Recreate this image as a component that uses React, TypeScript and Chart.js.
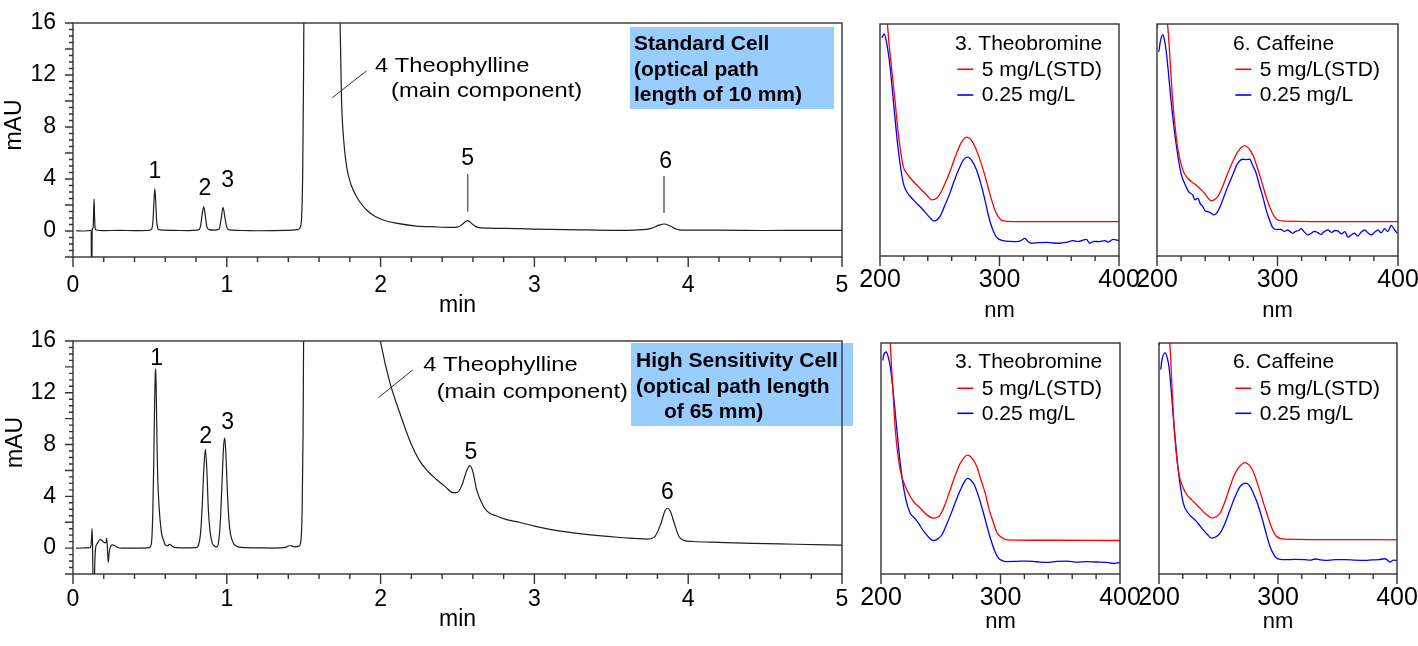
import React, { useEffect, useRef } from "react";
import { Chart, registerables } from "chart.js";

Chart.register(...registerables);

const FONT = "'Liberation Sans', Arial, Helvetica, sans-serif";
const AXIS = "#333333";
const TRACE = "#1e1e1e";
const RED = "#ff0000";
const BLUE = "#0000ff";

// ---------- tick labels ----------
const timeTicks = [0, 1, 2, 3, 4, 5];
const mauTicks = [0, 4, 8, 12, 16];
const nmTicks = [200, 300, 400];

// ---------- standard cell chromatogram (min, mAU) ----------
const stdTime = [0.02, 0.06, 0.1, 0.118, 0.1205, 0.1225, 0.1245, 0.131, 0.134, 0.137, 0.14, 0.143, 0.15, 0.2, 0.3, 0.4, 0.48, 0.51, 0.52, 0.526, 0.532, 0.538, 0.544, 0.552, 0.565, 0.65, 0.75, 0.81, 0.828, 0.84, 0.85, 0.86, 0.87, 0.885, 0.92, 0.95, 0.963, 0.976, 0.988, 1.0, 1.015, 1.1, 1.2, 1.3, 1.4, 1.46, 1.478, 1.488, 1.494, 1.499, 1.505, 1.52, 1.6, 1.7, 1.728, 1.738, 1.746, 1.76, 1.779, 1.81, 1.844, 1.88, 1.909, 1.96, 2.017, 2.1, 2.234, 2.35, 2.45, 2.5, 2.53, 2.566, 2.6, 2.63, 2.7, 2.9, 3.1, 3.34, 3.6, 3.7, 3.76, 3.81, 3.845, 3.88, 3.92, 3.96, 4.2, 4.5, 4.8, 5.0];
const stdSignal = [0.02, 0.0, 0.03, 0.05, -4, -4, 0.1, 0.25, 1.4, 2.45, 1.2, 0.3, 0.08, 0.03, 0.05, 0.03, 0.04, 0.12, 0.8, 2.2, 3.25, 2.2, 0.8, 0.2, 0.08, 0.05, 0.03, 0.06, 0.3, 1.3, 1.85, 1.2, 0.35, 0.1, 0.06, 0.15, 0.9, 1.82, 1.0, 0.3, 0.08, 0.04, 0.02, 0.03, 0.05, 0.1, 0.3, 1.5, 5, 12, 25, 60, 120, 60, 24, 15, 10.1, 7, 4.95, 3.5, 2.64, 2.0, 1.62, 1.15, 0.85, 0.6, 0.38, 0.32, 0.28, 0.3, 0.5, 0.8, 0.5, 0.28, 0.22, 0.18, 0.12, 0.08, 0.05, 0.1, 0.2, 0.45, 0.54, 0.4, 0.15, 0.06, 0.06, 0.04, 0.05, 0.05];

// ---------- high sensitivity cell chromatogram (min, mAU) ----------
const hsTime = [0.02, 0.06, 0.1, 0.115, 0.121, 0.124, 0.127, 0.13, 0.133, 0.138, 0.141, 0.147, 0.155, 0.165, 0.175, 0.188, 0.2, 0.21, 0.216, 0.219, 0.223, 0.229, 0.235, 0.243, 0.255, 0.27, 0.29, 0.32, 0.4, 0.49, 0.505, 0.513, 0.519, 0.525, 0.531, 0.535, 0.538, 0.542, 0.547, 0.553, 0.564, 0.575, 0.586, 0.6, 0.615, 0.628, 0.64, 0.66, 0.7, 0.8, 0.815, 0.828, 0.84, 0.85, 0.861, 0.871, 0.88, 0.892, 0.905, 0.92, 0.935, 0.948, 0.96, 0.972, 0.98, 0.987, 0.995, 1.005, 1.018, 1.035, 1.055, 1.1, 1.2, 1.3, 1.38, 1.41, 1.44, 1.47, 1.482, 1.49, 1.496, 1.502, 1.52, 1.6, 1.7, 1.8, 1.9, 1.95, 2.002, 2.06, 2.126, 2.19, 2.256, 2.31, 2.364, 2.42, 2.472, 2.5, 2.53, 2.56, 2.581, 2.6, 2.625, 2.657, 2.69, 2.75, 2.82, 2.906, 3.0, 3.1, 3.23, 3.4, 3.556, 3.65, 3.73, 3.78, 3.82, 3.85, 3.865, 3.885, 3.91, 3.94, 3.97, 4.03, 4.2, 4.42, 4.7, 5.0];
const hsSignal = [0, 0.01, 0.02, 0.05, 0.8, 1.5, 0.3, -2.5, -4, -4, -1.5, 0, 0.3, 0.5, 0.65, 0.6, 0.45, 0.4, 0.5, 0.75, 0.2, -1.1, -0.4, 0.1, 0.25, 0.2, 0.05, 0.0, 0.0, 0.02, 0.15, 0.8, 2.8, 6.6, 11.5, 13.5, 13.85, 11.5, 7.5, 4.8, 2.48, 1.2, 0.69, 0.25, 0.18, 0.3, 0.2, 0.05, 0.02, 0.04, 0.2, 1.0, 3.2, 6.0, 7.62, 5.8, 3.0, 1.2, 0.4, 0.15, 0.1, 0.6, 2.5, 6.0, 8.0, 8.5, 7.0, 4.0, 1.6, 0.6, 0.2, 0.05, 0.02, 0.0, 0.05, 0.2, 0.1, 0.15, 0.6, 3, 9, 22, 60, 150, 100, 45, 25, 19.5, 15.8, 12.8, 10.4, 8.3, 6.7, 5.9, 5.3, 4.75, 4.28, 4.3, 4.9, 6.0, 6.38, 5.9, 4.5, 3.51, 2.87, 2.5, 2.2, 1.98, 1.7, 1.45, 1.21, 0.98, 0.82, 0.75, 0.69, 0.85, 1.8, 2.9, 3.08, 2.8, 1.9, 0.9, 0.6, 0.51, 0.44, 0.36, 0.3, 0.23];

// ---------- UV spectra (nm, relative absorbance) : standard cell ----------
const theoStdRedNm = [205, 206.4, 209.5, 212.5, 215.3, 219.5, 222.3, 227.9, 233.4, 239, 243.2, 247.4, 251.5, 255.7, 260, 264.1, 268.5, 272.5, 276, 279.4, 283, 286.4, 290, 293.4, 296, 298.9, 303.1, 311.4, 350, 400];
const theoStdRedAbs = [115, 99, 82, 67.3, 52.9, 38.5, 35.7, 32.1, 29.2, 26.3, 24.2, 24.9, 28, 32.8, 38.5, 44.3, 49.3, 51.2, 50.2, 47.2, 42.5, 37.1, 30.5, 24.2, 20, 17.0, 15.1, 14.8, 14.8, 14.8];
const theoStdBlueNm = [201.5, 203.5, 205.6, 208.4, 211.1, 215.3, 219.5, 222.3, 227.9, 234.8, 240.4, 245.1, 250.1, 254, 258.5, 262.5, 266.9, 270, 273, 277, 280.8, 284.5, 287.8, 290.5, 293.4, 297.5, 303.1, 309, 314.2, 318, 321.2, 324, 326.7, 333, 339.3, 345, 350.4, 356, 361.5, 366, 372.7, 375.5, 379, 383.8, 388, 391, 395, 400];
const theoStdBlueAbs = [94, 95.7, 91.8, 81.7, 67.3, 45.7, 31.4, 27.8, 24.2, 20.6, 17.3, 15.1, 17.0, 21.5, 27.1, 33, 38.5, 41.5, 42.6, 41, 37.1, 31, 24.2, 18, 12.7, 8.1, 6.6, 6.3, 6.2, 6.6, 7.6, 6.2, 5.5, 5.8, 5.9, 5.6, 5.5, 5.9, 6.6, 6.2, 7.2, 5.5, 6.3, 6.2, 6.6, 6.0, 7.2, 6.6];

const cafStdRedNm = [200, 202.5, 205, 208.9, 213, 216.6, 221.4, 225.5, 232.4, 239.4, 244.9, 250.4, 254.5, 258.7, 263, 267.1, 272.6, 276, 279.5, 283, 286.4, 290, 293.4, 297, 300.3, 305.9, 350, 400];
const cafStdRedAbs = [98, 106, 112, 99, 67.3, 48.6, 37.1, 33.5, 30.6, 27.1, 23.9, 25.6, 30, 35.7, 40.8, 45.0, 47.6, 46.5, 43.6, 38.5, 32.8, 26.5, 21.3, 17.3, 15.5, 15.0, 14.8, 14.8];
const cafStdBlueNm = [201.5, 203, 204.7, 206, 207.5, 209.5, 211.6, 215.8, 219.9, 224.1, 226.5, 229.6, 231.5, 233.8, 236, 238, 240, 242.1, 244.5, 247.1, 249.5, 251.8, 255, 258.7, 263, 267.1, 271.2, 274, 276.8, 279.5, 282.3, 285, 287.8, 290.5, 293.4, 296.1, 299, 303, 305.5, 308.6, 310.5, 312.7, 315, 317.5, 319.6, 322, 325.2, 328, 330.5, 333.5, 336, 338.5, 341.8, 345, 347.5, 350.1, 353, 356, 358.4, 361, 364, 366.5, 369.5, 372.3, 375, 377.8, 380.5, 383.4, 386, 389, 391.5, 394.4, 397.2, 399.4];
const cafStdBlueAbs = [88, 93, 95.4, 93.5, 88.9, 79, 67.3, 48.6, 35.7, 29.9, 27.5, 26.3, 24.2, 24.9, 22.5, 21.3, 19.5, 19.1, 18.6, 17.7, 18.5, 20.6, 24.8, 29.9, 35.2, 40.0, 41.7, 41.5, 41.7, 39, 35.7, 30.5, 25.6, 20, 15.5, 12.2, 11.4, 11.5, 10.6, 11.2, 10.5, 9.8, 10.6, 11.0, 11.8, 10.5, 9.1, 9.8, 10.6, 10.1, 9.3, 10.4, 11.2, 10.2, 11.0, 10.8, 9.6, 10.5, 8.1, 9.0, 9.8, 8.6, 10.3, 11.2, 10.0, 9.1, 10.2, 11.2, 10.0, 11.8, 10.6, 13.2, 11.2, 9.8];

// ---------- UV spectra : high sensitivity cell ----------
const theoHsRedNm = [206, 207.8, 210, 212, 216.1, 221.7, 227.3, 232.9, 238.4, 244, 249.6, 253.5, 257.9, 262, 266.3, 272.4, 276, 280.2, 283.5, 287.2, 290.5, 294.2, 297, 299.8, 305.3, 340, 400];
const theoHsRedAbs = [112, 99, 79, 62.3, 45.0, 36.4, 31.3, 28.5, 25.6, 24.2, 25.6, 30, 36.4, 42.5, 47.9, 51.5, 50.3, 46.5, 41, 35.0, 28, 22.0, 18, 16.2, 14.8, 14.6, 14.5];
const theoHsBlueNm = [201.5, 202.2, 204.4, 206, 207.8, 210, 212, 216.1, 220.3, 224.5, 228, 231.4, 234, 237, 240.5, 244, 247.5, 251, 255, 259.3, 263.5, 267.7, 272.4, 275.5, 278.8, 282.3, 285.8, 289.3, 292.8, 295.5, 298.3, 301.5, 305.3, 314, 322, 330, 338.7, 347, 355.4, 364, 372.2, 380, 388.9, 394.4, 400];
const theoHsBlueAbs = [92.5, 94.7, 96.1, 94, 89.6, 80, 69.5, 47.9, 33.5, 26.3, 24.3, 22.0, 19.8, 17.7, 15.6, 14.5, 15.2, 17.0, 21.5, 27.0, 32.8, 37.8, 41.4, 40.5, 37.8, 32.5, 26.3, 19.5, 13.4, 9.5, 6.9, 5.8, 5.4, 5.5, 5.6, 5.3, 5.0, 5.5, 5.6, 5.1, 5.4, 5.2, 5.0, 4.6, 5.0];

const cafHsRedNm = [200, 201.7, 205, 209.2, 211, 212.9, 216.2, 221.8, 227.5, 234.5, 240, 244.8, 248, 251.3, 255.5, 259.7, 263, 266.6, 272.3, 276, 279.3, 282.8, 286.2, 289.8, 293.3, 296, 298.8, 305.9, 350, 400];
const cafHsRedAbs = [99, 102, 112, 99, 80, 62.3, 45.0, 35.7, 32.1, 28.5, 25.6, 24.2, 24.8, 26.3, 31.5, 37.8, 42.5, 45.8, 48.2, 47, 44.3, 39, 33.5, 27.5, 22.0, 18.5, 16.2, 15.1, 14.9, 14.8];
const cafHsBlueNm = [201.5, 202.2, 205, 206.7, 208.4, 210.2, 212, 216.2, 220.4, 224.6, 228, 231.6, 234.5, 237.2, 240.5, 244.2, 247.5, 251.3, 255.5, 259.7, 264, 268.1, 272.8, 276, 279.3, 282.8, 286.2, 289.8, 293.3, 296, 298.8, 302, 305.9, 314, 322.7, 327, 331.2, 335.5, 339.6, 348, 356.4, 364.8, 373.2, 379, 384.4, 390, 392, 394.2, 397, 400];
const cafHsBlueAbs = [88.5, 91.8, 95.7, 94, 89.6, 80, 68.0, 45.0, 30.7, 26.3, 24.5, 22.7, 20.8, 19.1, 17.2, 15.5, 16.0, 17.7, 22, 27.8, 33.5, 37.8, 39.3, 38.3, 35.0, 30.5, 24.9, 18, 11.9, 8.8, 6.9, 6.3, 6.2, 6.3, 6.2, 6.0, 6.5, 6.1, 5.9, 6.2, 6.2, 6.0, 5.9, 6.1, 6.2, 6.6, 6.0, 5.2, 6.0, 5.9];

// ---------- helpers ----------
const pts = (xs: number[], ys: number[]) => xs.map((x, i) => ({ x, y: ys[i] }));

type Anno =
  | { t: "text"; s: string; x: number; y: number; size: number; bold?: boolean; sx?: number; align?: CanvasTextAlign; rot?: boolean }
  | { t: "line"; x1: number; y1: number; x2: number; y2: number; c: string; w: number }
  | { t: "rect"; x: number; y: number; w: number; h: number; c: string };

interface Decor {
  ox: number;
  oy: number;
  xMinor: number;
  xMajor: number;
  yMinor?: number;
  yMajor?: number;
  annos: Anno[];
}

function decorPlugin(d: Decor) {
  return {
    id: "decor",
    beforeDatasetsDraw(chart: any) {
      const ctx = chart.ctx;
      ctx.save();
      for (const a of d.annos) {
        if (a.t === "rect") {
          ctx.fillStyle = a.c;
          ctx.fillRect(a.x - d.ox, a.y - d.oy, a.w, a.h);
        }
      }
      ctx.restore();
    },
    afterDraw(chart: any) {
      const { ctx, chartArea: ca, scales } = chart;
      ctx.save();
      ctx.strokeStyle = AXIS;
      ctx.lineWidth = 1.4;
      ctx.strokeRect(ca.left, ca.top, ca.right - ca.left, ca.bottom - ca.top);
      ctx.beginPath();
      const xs = scales.x;
      const nx = Math.round((xs.max - xs.min) / d.xMinor);
      for (let i = 0; i <= nx; i++) {
        const v = xs.min + i * d.xMinor;
        const px = xs.getPixelForValue(v);
        const r = v / d.xMajor;
        const major = Math.abs(r - Math.round(r)) < 1e-6;
        ctx.moveTo(px, ca.bottom);
        ctx.lineTo(px, ca.bottom + (major ? 10 : 5));
      }
      if (d.yMinor && d.yMajor) {
        const ys = scales.y;
        const ny = Math.round((ys.max - ys.min) / d.yMinor);
        for (let i = 0; i <= ny; i++) {
          const v = ys.min + i * d.yMinor;
          const py = ys.getPixelForValue(v);
          const r = v / d.yMajor;
          const major = Math.abs(r - Math.round(r)) < 1e-6;
          ctx.moveTo(ca.left, py);
          ctx.lineTo(ca.left - (major ? 8 : 4), py);
        }
      }
      ctx.stroke();

      for (const a of d.annos) {
        if (a.t === "line") {
          ctx.strokeStyle = a.c;
          ctx.lineWidth = a.w;
          ctx.beginPath();
          ctx.moveTo(a.x1 - d.ox, a.y1 - d.oy);
          ctx.lineTo(a.x2 - d.ox, a.y2 - d.oy);
          ctx.stroke();
        } else if (a.t === "text") {
          ctx.fillStyle = "#000";
          ctx.font = `${a.bold ? "bold " : ""}${a.size}px ${FONT}`;
          ctx.save();
          ctx.translate(a.x - d.ox, a.y - d.oy);
          if (a.rot) {
            ctx.rotate(-Math.PI / 2);
            ctx.textAlign = "center";
            ctx.textBaseline = "middle";
          } else {
            ctx.textAlign = a.align || "left";
            ctx.textBaseline = "alphabetic";
            ctx.scale(a.sx || 1, 1);
          }
          ctx.fillText(a.s, 0, 0);
          ctx.restore();
        }
      }
      ctx.restore();
    },
  };
}

interface Box {
  ox: number;
  oy: number;
  w: number;
  h: number;
  L: number;
  T: number;
  R: number;
  B: number;
}

function chromatogram(box: Box, time: number[], signal: number[], tickPad: number, titlePad: number, annos: Anno[]) {
  return {
    type: "line",
    data: {
      datasets: [
        {
          data: pts(time, signal),
          borderColor: TRACE,
          borderWidth: 1.2,
          pointRadius: 0,
          cubicInterpolationMode: "monotone",
          fill: false,
        },
      ],
    },
    options: {
      responsive: false,
      animation: false,
      events: [],
      layout: { padding: { left: 0, top: box.T - box.oy, right: box.ox + box.w - box.R, bottom: 0 } },
      plugins: { legend: { display: false }, tooltip: { enabled: false } },
      scales: {
        x: {
          type: "linear",
          min: 0,
          max: 5,
          afterBuildTicks: (s: any) => {
            s.ticks = timeTicks.map((value) => ({ value }));
          },
          afterFit: (s: any) => {
            s.height = box.oy + box.h - box.B;
            s.paddingLeft = 0;
            s.paddingRight = 0;
          },
          grid: { display: false, drawTicks: false },
          border: { display: false },
          ticks: { color: "#000", font: { family: FONT, size: 23 }, padding: tickPad, maxRotation: 0, autoSkip: false },
          title: { display: true, text: "min", color: "#000", font: { family: FONT, size: 23 }, padding: { top: 0, bottom: titlePad } },
        },
        y: {
          type: "linear",
          min: -2,
          max: 16,
          afterBuildTicks: (s: any) => {
            s.ticks = mauTicks.map((value) => ({ value }));
          },
          afterFit: (s: any) => {
            s.width = box.L - box.ox;
            s.paddingTop = 0;
            s.paddingBottom = 0;
          },
          grid: { display: false, drawTicks: false },
          border: { display: false },
          ticks: { color: "#000", font: { family: FONT, size: 23 }, padding: 17, autoSkip: false },
        },
      },
    },
    plugins: [decorPlugin({ ox: box.ox, oy: box.oy, xMinor: 0.2, xMajor: 1, yMinor: 0.5, yMajor: 2, annos })],
  };
}

function spectrum(box: Box, redNm: number[], redAbs: number[], blueNm: number[], blueAbs: number[], tickPad: number, titlePad: number, annos: Anno[]) {
  return {
    type: "line",
    data: {
      datasets: [
        { label: "5 mg/L(STD)", data: pts(redNm, redAbs), borderColor: RED, borderWidth: 1.3, pointRadius: 0, cubicInterpolationMode: "monotone", fill: false },
        { label: "0.25 mg/L", data: pts(blueNm, blueAbs), borderColor: BLUE, borderWidth: 1.3, pointRadius: 0, cubicInterpolationMode: "monotone", fill: false },
      ],
    },
    options: {
      responsive: false,
      animation: false,
      events: [],
      layout: { padding: { left: box.L - box.ox, top: box.T - box.oy, right: box.ox + box.w - box.R, bottom: 0 } },
      plugins: { legend: { display: false }, tooltip: { enabled: false } },
      scales: {
        x: {
          type: "linear",
          min: 200,
          max: 400,
          afterBuildTicks: (s: any) => {
            s.ticks = nmTicks.map((value) => ({ value }));
          },
          afterFit: (s: any) => {
            s.height = box.oy + box.h - box.B;
            s.paddingLeft = 0;
            s.paddingRight = 0;
          },
          grid: { display: false, drawTicks: false },
          border: { display: false },
          ticks: { color: "#000", font: { family: FONT, size: 25 }, padding: tickPad, maxRotation: 0, autoSkip: false },
          title: { display: true, text: "nm", color: "#000", font: { family: FONT, size: 22 }, padding: { top: 0, bottom: titlePad } },
        },
        y: { type: "linear", min: 0, max: 100, display: false },
      },
    },
    plugins: [decorPlugin({ ox: box.ox, oy: box.oy, xMinor: 20, xMajor: 100, annos })],
  };
}

function legendAnnos(title: string, x0: number, yTitle: number, yRed: number, yRedText: number, yBlue: number, yBlueText: number): Anno[] {
  return [
    { t: "text", s: title, x: x0, y: yTitle, size: 21 },
    { t: "line", x1: x0 + 2.3, y1: yRed, x2: x0 + 18.3, y2: yRed, c: RED, w: 1.6 },
    { t: "text", s: "5 mg/L(STD)", x: x0 + 26.7, y: yRedText, size: 21 },
    { t: "line", x1: x0 + 2.3, y1: yBlue, x2: x0 + 18.3, y2: yBlue, c: BLUE, w: 1.6 },
    { t: "text", s: "0.25 mg/L", x: x0 + 26.7, y: yBlueText, size: 21 },
  ];
}

// ---------- panel definitions ----------
const stdBox: Box = { ox: 0, oy: 0, w: 860, h: 330, L: 73, T: 23, R: 842, B: 257 };
const hsBox: Box = { ox: 0, oy: 330, w: 860, h: 316, L: 73, T: 341, R: 842, B: 574 };
const s1Box: Box = { ox: 860, oy: 0, w: 290, h: 330, L: 880, T: 24, R: 1119, B: 256 };
const s2Box: Box = { ox: 1130, oy: 0, w: 288, h: 330, L: 1157, T: 24, R: 1398, B: 256 };
const s3Box: Box = { ox: 860, oy: 330, w: 290, h: 316, L: 881, T: 343, R: 1120, B: 574 };
const s4Box: Box = { ox: 1130, oy: 330, w: 288, h: 316, L: 1159, T: 343, R: 1397, B: 574 };

const stdAnnos: Anno[] = [
  { t: "rect", x: 630, y: 27, w: 204, h: 82, c: "#99ccff" },
  { t: "text", s: "Standard Cell", x: 634, y: 50, size: 21, bold: true },
  { t: "text", s: "(optical path", x: 634, y: 75.5, size: 21, bold: true },
  { t: "text", s: "length of 10 mm)", x: 634, y: 101, size: 21, bold: true },
  { t: "text", s: "4 Theophylline", x: 375, y: 71.7, size: 21, sx: 1.13 },
  { t: "text", s: "(main component)", x: 391, y: 96.7, size: 21, sx: 1.13 },
  { t: "line", x1: 332.3, y1: 97.7, x2: 366.7, y2: 70.7, c: "#333", w: 1 },
  { t: "text", s: "1", x: 155, y: 178.3, size: 23, align: "center" },
  { t: "text", s: "2", x: 205, y: 195, size: 23, align: "center" },
  { t: "text", s: "3", x: 227.7, y: 187.3, size: 23, align: "center" },
  { t: "text", s: "5", x: 467.7, y: 165, size: 23, align: "center" },
  { t: "line", x1: 467.7, y1: 174, x2: 467.7, y2: 211.7, c: "#666", w: 1.5 },
  { t: "text", s: "6", x: 665.7, y: 168.3, size: 23, align: "center" },
  { t: "line", x1: 664, y1: 176, x2: 664, y2: 213, c: "#666", w: 1.5 },
  { t: "text", s: "mAU", x: 15, y: 125, size: 23, rot: true },
];

const hsAnnos: Anno[] = [
  { t: "rect", x: 631, y: 343, w: 222, h: 83, c: "#99ccff" },
  { t: "text", s: "High Sensitivity Cell", x: 636, y: 366.7, size: 21, bold: true },
  { t: "text", s: "(optical path length", x: 636, y: 393.3, size: 21, bold: true },
  { t: "text", s: "of 65 mm)", x: 664, y: 418.3, size: 21, bold: true },
  { t: "text", s: "4 Theophylline", x: 423.3, y: 370.7, size: 21, sx: 1.13 },
  { t: "text", s: "(main component)", x: 436.7, y: 398.3, size: 21, sx: 1.13 },
  { t: "line", x1: 378.3, y1: 397.7, x2: 412.7, y2: 370, c: "#333", w: 1 },
  { t: "text", s: "1", x: 156.7, y: 365, size: 23, align: "center" },
  { t: "text", s: "2", x: 205.7, y: 443.3, size: 23, align: "center" },
  { t: "text", s: "3", x: 227.7, y: 429.3, size: 23, align: "center" },
  { t: "text", s: "5", x: 471, y: 459.3, size: 23, align: "center" },
  { t: "text", s: "6", x: 667.3, y: 499.3, size: 23, align: "center" },
  { t: "text", s: "mAU", x: 15.5, y: 442.5, size: 23, rot: true },
];

const panels = [
  { box: stdBox, make: () => chromatogram(stdBox, stdTime, stdSignal, 15, 11, stdAnnos) },
  { box: hsBox, make: () => chromatogram(hsBox, hsTime, hsSignal, 12, 13, hsAnnos) },
  {
    box: s1Box,
    make: () => spectrum(s1Box, theoStdRedNm, theoStdRedAbs, theoStdBlueNm, theoStdBlueAbs, 9, 6, legendAnnos("3. Theobromine", 955, 50, 69.3, 76, 95, 101)),
  },
  {
    box: s2Box,
    make: () => spectrum(s2Box, cafStdRedNm, cafStdRedAbs, cafStdBlueNm, cafStdBlueAbs, 9, 6, legendAnnos("6. Caffeine", 1233, 50, 69.3, 76, 95, 101)),
  },
  {
    box: s3Box,
    make: () => spectrum(s3Box, theoHsRedNm, theoHsRedAbs, theoHsBlueNm, theoHsBlueAbs, 9, 11, legendAnnos("3. Theobromine", 955, 368.3, 388.3, 395, 413.3, 420)),
  },
  {
    box: s4Box,
    make: () => spectrum(s4Box, cafHsRedNm, cafHsRedAbs, cafHsBlueNm, cafHsBlueAbs, 9, 11, legendAnnos("6. Caffeine", 1233, 368.3, 388.3, 395, 413.3, 420)),
  },
];

function Panel({ box, make }: { box: Box; make: () => any }) {
  const ref = useRef<HTMLCanvasElement>(null);
  useEffect(() => {
    const chart = new Chart(ref.current as HTMLCanvasElement, make());
    return () => chart.destroy();
  }, []);
  return (
    <canvas
      ref={ref}
      width={box.w}
      height={box.h}
      style={{ position: "absolute", left: box.ox, top: box.oy, width: box.w, height: box.h }}
    />
  );
}

export default function App() {
  return (
    <div style={{ position: "absolute", left: 0, top: 0, width: 1418, height: 646, background: "#fff", overflow: "hidden" }}>
      {panels.map((p, i) => (
        <Panel key={i} box={p.box} make={p.make} />
      ))}
    </div>
  );
}
